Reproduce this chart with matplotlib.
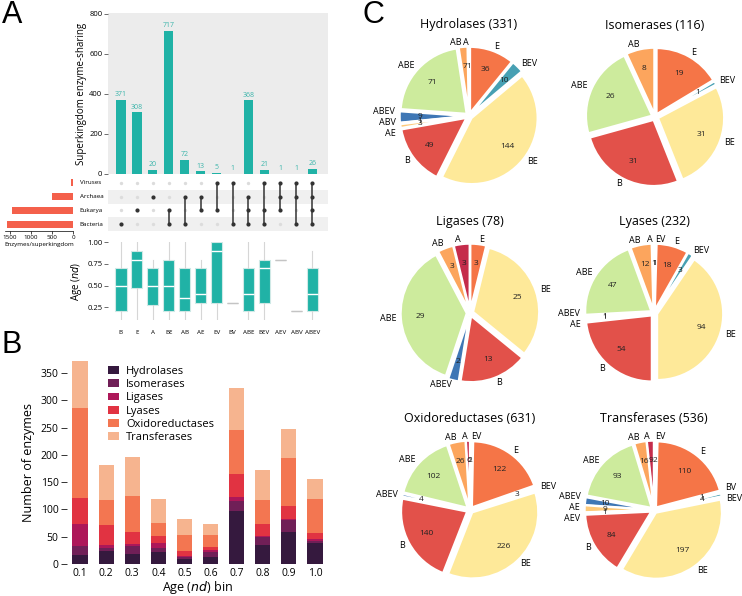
import matplotlib
matplotlib.use("Agg")
import matplotlib.pyplot as plt
import seaborn as sns
import numpy as np

plt.rcParams['font.family'] = ['Open Sans', 'DejaVu Sans']

W, H = 742, 596

# ---------------- panel A data ----------------
intersections = ["B", "E", "A", "BE", "AB", "AE", "EV", "BV", "ABE", "BEV", "AEV", "ABV", "ABEV"]
intersection_sizes = [371, 308, 20, 717, 72, 13, 5, 1, 368, 21, 1, 1, 26]
kingdoms = ["Bacteria", "Eukarya", "Archaea", "Viruses"]
kingdom_letters = ["B", "E", "A", "V"]

# age (nd) per intersection, box stats
age_whislo = [0.1, 0.1, 0.1, 0.1, 0.1, 0.1, 0.1, 0.3, 0.1, 0.1, 0.8, 0.2, 0.1]
age_q1 = [0.2, 0.475, 0.275, 0.2, 0.2, 0.3, 0.3, 0.3, 0.2, 0.3, 0.8, 0.2, 0.2]
age_med = [0.5, 0.8, 0.5, 0.5, 0.35, 0.4, 0.9, 0.3, 0.4, 0.7, 0.8, 0.2, 0.4]
age_q3 = [0.7, 0.9, 0.7, 0.8, 0.7, 0.7, 1.0, 0.3, 0.7, 0.8, 0.8, 0.2, 0.7]
age_whishi = [1.0, 1.0, 0.8, 1.0, 1.0, 0.8, 1.0, 0.3, 1.0, 1.0, 0.8, 0.2, 0.9]

# ---------------- panel B data ----------------
age_bins = ["0.1", "0.2", "0.3", "0.4", "0.5", "0.6", "0.7", "0.8", "0.9", "1.0"]
enzyme_classes = ["Hydrolases", "Isomerases", "Ligases", "Lyases", "Oxidoreductases", "Transferases"]
hydrolases = [16, 23, 19, 22, 10, 12, 97, 35, 58, 39]
isomerases = [17, 6, 14, 8, 3, 10, 18, 14, 22, 4]
ligases = [40, 6, 3, 9, 2, 4, 8, 2, 2, 2]
lyases = [48, 37, 22, 12, 8, 6, 42, 22, 24, 11]
oxidoreductases = [165, 45, 67, 24, 30, 22, 80, 45, 89, 64]
transferases = [87, 64, 71, 44, 30, 20, 78, 54, 53, 35]

# ---------------- panel C data ----------------
pie_categories = ["A", "AB", "ABE", "ABEV", "ABV", "AE", "AEV", "B", "BE", "BEV", "BV", "E", "EV"]
hydrolases_pie = [1, 7, 71, 9, 1, 3, 0, 49, 144, 10, 0, 36, 0]
isomerases_pie = [0, 8, 26, 0, 0, 0, 0, 31, 31, 1, 0, 19, 0]
ligases_pie = [3, 3, 29, 2, 0, 0, 0, 13, 25, 0, 0, 3, 0]
lyases_pie = [1, 12, 47, 1, 0, 1, 0, 54, 94, 3, 0, 18, 1]
oxidoreductases_pie = [6, 26, 102, 4, 0, 0, 0, 140, 226, 3, 0, 122, 2]
transferases_pie = [9, 16, 93, 10, 0, 9, 1, 84, 197, 4, 1, 110, 2]

teal = "#20b2a6"
set_color = "#f4604b"

fig = plt.figure(figsize=(W / 100, H / 100), dpi=100)


def px_axes(x0, y0, x1, y1):
    return fig.add_axes([x0 / W, 1 - y1 / H, (x1 - x0) / W, (y1 - y0) / H])


def clean(ax):
    for s in ax.spines.values():
        s.set_visible(False)


def spread_labels(texts, char_w=0.1, h=0.16, iters=40):
    # push pie labels apart when they collide
    for _ in range(iters):
        moved = False
        for i in range(len(texts)):
            for j in range(i + 1, len(texts)):
                a, b = texts[i], texts[j]
                boxes = []
                for t in (a, b):
                    x, y = t.get_position()
                    w = len(t.get_text()) * char_w
                    if t.get_ha() == "right":
                        x0 = x - w
                    elif t.get_ha() == "left":
                        x0 = x
                    else:
                        x0 = x - w / 2
                    boxes.append((x0, x0 + w, y - h / 2, y + h / 2))
                ox = min(boxes[0][1], boxes[1][1]) - max(boxes[0][0], boxes[1][0])
                oy = min(boxes[0][3], boxes[1][3]) - max(boxes[0][2], boxes[1][2])
                if ox <= 0 or oy <= 0:
                    continue
                moved = True
                (ax_, ay), (bx_, by) = a.get_position(), b.get_position()
                if abs(ay + by) / 2 > 0.8:
                    d = ox / 2 + 0.005
                    if ax_ <= bx_:
                        a.set_x(ax_ - d); b.set_x(bx_ + d)
                    else:
                        a.set_x(ax_ + d); b.set_x(bx_ - d)
                else:
                    d = oy / 2 + 0.005
                    if ay >= by:
                        a.set_y(ay + d); b.set_y(by - d)
                    else:
                        a.set_y(ay - d); b.set_y(by + d)
        if not moved:
            break


n = len(intersections)
xs = np.arange(n)

# ---- A: intersection bars ----
ax_bar = px_axes(108, 13, 328, 174)
ax_bar.set_facecolor("#ececec")
ax_bar.bar(xs, intersection_sizes, width=0.6, color=teal)
for x, v in zip(xs, intersection_sizes):
    ax_bar.text(x, v + 8, str(v), ha="center", va="bottom", fontsize=5, color="#3db5ab")
ax_bar.set_xlim(-0.8, n - 0.02)
ax_bar.set_ylim(0, 805)
ax_bar.set_yticks([0, 200, 400, 600, 800])
ax_bar.set_xticks([])
ax_bar.tick_params(axis="y", labelsize=5.5, length=3, width=0.6, color="#555555", pad=1)
ax_bar.set_ylabel("Superkingdom enzyme-sharing", fontsize=7, labelpad=2)
clean(ax_bar)

# ---- A: matrix ----
ax_mat = px_axes(108, 176, 328, 231)
rows = {"B": 0, "E": 1, "A": 2, "V": 3}
ax_mat.set_xlim(-0.8, n - 0.02)
ax_mat.set_ylim(-0.5, 3.5)
for r in (0, 2):
    ax_mat.axhspan(r - 0.5, r + 0.5, color="#f0f0f0", lw=0, zorder=0)
for x, name in zip(xs, intersections):
    ax_mat.scatter([x] * 4, range(4), s=6, color="#dcdcdc", lw=0, zorder=2)
    ys = [rows[c] for c in name]
    ax_mat.plot([x, x], [min(ys), max(ys)], color="#333333", lw=1.1, zorder=3)
    ax_mat.scatter([x] * len(ys), ys, s=9, color="#333333", lw=0, zorder=4)
ax_mat.set_xticks([])
ax_mat.set_yticks([])
clean(ax_mat)

# ---- A: set sizes ----
set_sizes = [sum(s for name, s in zip(intersections, intersection_sizes) if k in name)
             for k in kingdom_letters]
ax_set = px_axes(5, 176, 73, 231)
ax_set.barh([rows[k] for k in kingdom_letters], set_sizes, height=0.5, color=set_color)
ax_set.set_xlim(1620, 0)
ax_set.set_ylim(-0.5, 3.5)
ax_set.set_yticks([])
ax_set.set_xticks([0, 500, 1000, 1500])
ax_set.tick_params(axis="x", labelsize=4.5, length=2, width=0.5, pad=1)
ax_set.set_xlabel("Enzymes/superkingdom", fontsize=4.5, labelpad=1)
clean(ax_set)
ax_set.spines["bottom"].set_visible(True)
ax_set.spines["bottom"].set_linewidth(0.5)
for k, name in zip(kingdom_letters, kingdoms):
    ax_mat.text(-2.58, rows[k], name, ha="left", va="center", fontsize=4.5, clip_on=False)

# ---- A: age boxplot ----
ax_box = px_axes(108, 242, 328, 320)
stats = [dict(whislo=a, q1=b, med=c, q3=d, whishi=e)
         for a, b, c, d, e in zip(age_whislo, age_q1, age_med, age_q3, age_whishi)]
bp = ax_box.bxp(stats, positions=xs, widths=0.72, patch_artist=True, showfliers=False,
                showcaps=False,
                boxprops=dict(facecolor=teal, edgecolor="#cfe9e6", linewidth=0.8),
                medianprops=dict(color="white", linewidth=1.0),
                whiskerprops=dict(color="#d6d6d6", linewidth=0.8))
for box, med, q1, q3 in zip(bp["boxes"], bp["medians"], age_q1, age_q3):
    if q1 == q3:
        box.set_edgecolor("#c4c4c4")
        med.set_color("#c4c4c4")
ax_box.set_xlim(-0.8, n - 0.02)
ax_box.set_ylim(0.1, 1.005)
ax_box.set_yticks([0.25, 0.5, 0.75, 1.0])
ax_box.set_yticklabels(["0.25", "0.50", "0.75", "1.00"])
ax_box.set_xticks(xs)
ax_box.set_xticklabels(intersections)
ax_box.tick_params(axis="x", labelsize=4.5, length=0, pad=7)
ax_box.tick_params(axis="y", labelsize=5.5, length=3, width=0.6, color="#555555", pad=1)
ax_box.set_ylabel("Age ($\\it{nd}$)", fontsize=7, labelpad=2)
clean(ax_box)

# ---- B: stacked bars ----
ax_b = px_axes(67, 360, 328, 564)
class_values = [hydrolases, isomerases, ligases, lyases, oxidoreductases, transferases]
rocket = sns.color_palette("rocket", 6)
bottom = np.zeros(len(age_bins))
bx = np.arange(len(age_bins))
for name, vals, col in zip(enzyme_classes, class_values, rocket):
    ax_b.bar(bx, vals, bottom=bottom, width=0.58, color=col, label=name)
    bottom += np.array(vals)
ax_b.set_xlim(-0.5, len(age_bins) - 0.5)
ax_b.set_ylim(0, 374)
ax_b.set_xticks(bx)
ax_b.set_xticklabels(age_bins)
ax_b.set_yticks(range(0, 351, 50))
ax_b.tick_params(axis="x", labelsize=7.5, length=0, pad=3)
ax_b.tick_params(axis="y", labelsize=7.5, length=4, width=0.7, color="#333333", pad=2)
ax_b.set_xlabel("Age ($\\it{nd}$) bin", fontsize=9, labelpad=0)
ax_b.set_ylabel("Number of enzymes", fontsize=9, labelpad=4)
clean(ax_b)
ax_b.legend(loc="upper left", bbox_to_anchor=(0.12, 1.02), frameon=False, fontsize=8,
            handlelength=1.0, handleheight=0.7, labelspacing=0.2, handletextpad=0.6)

# ---- C: pies ----
order_key = sorted(pie_categories, key=lambda c: (len(c), c))
spectral = sns.color_palette("Spectral", len(order_key))
cat_color = {c: spectral[i] for i, c in enumerate(order_key)}

pies = [
    ("Hydrolases", hydrolases_pie, 469, 116),
    ("Isomerases", isomerases_pie, 655, 117),
    ("Ligases", ligases_pie, 470, 313),
    ("Lyases", lyases_pie, 654, 313),
    ("Oxidoreductases", oxidoreductases_pie, 470, 510),
    ("Transferases", transferases_pie, 654, 510),
]
R = 66
for title, counts, cx, cy in pies:
    ax = px_axes(cx - 100, cy - 100, cx + 100, cy + 100)
    cats = [c for c, v in zip(pie_categories, counts) if v > 0]
    vals = [v for v in counts if v > 0]
    total = sum(vals)
    wedges, labels, values = ax.pie(
        vals, labels=cats, colors=[cat_color[c] for c in cats], startangle=90,
        explode=[0.05] * len(vals), labeldistance=1.07, pctdistance=0.7,
        autopct=lambda p, t=total: "{:d}".format(int(round(p * t / 100))),
        wedgeprops=dict(edgecolor="white", linewidth=1.5),
        textprops=dict(fontsize=6.5),
    )
    for t in values:
        t.set_fontsize(6)
        t.set_color("#222222")
    spread_labels(labels)
    ax.text(0, 1.38, "{} ({})".format(title, total), ha="center", va="center", fontsize=9)
    lim = 100 / R
    ax.set_xlim(-lim, lim)
    ax.set_ylim(-lim, lim)
    ax.set_aspect("equal")
    ax.axis("off")

# panel letters
for letter, x, y in [("A", 2, 0), ("B", 2, 330), ("C", 362, 0)]:
    fig.text(x / W, 1 - y / H, letter, fontsize=22, ha="left", va="top",
             family="Liberation Sans")

fig.savefig("out.png", dpi=100)
